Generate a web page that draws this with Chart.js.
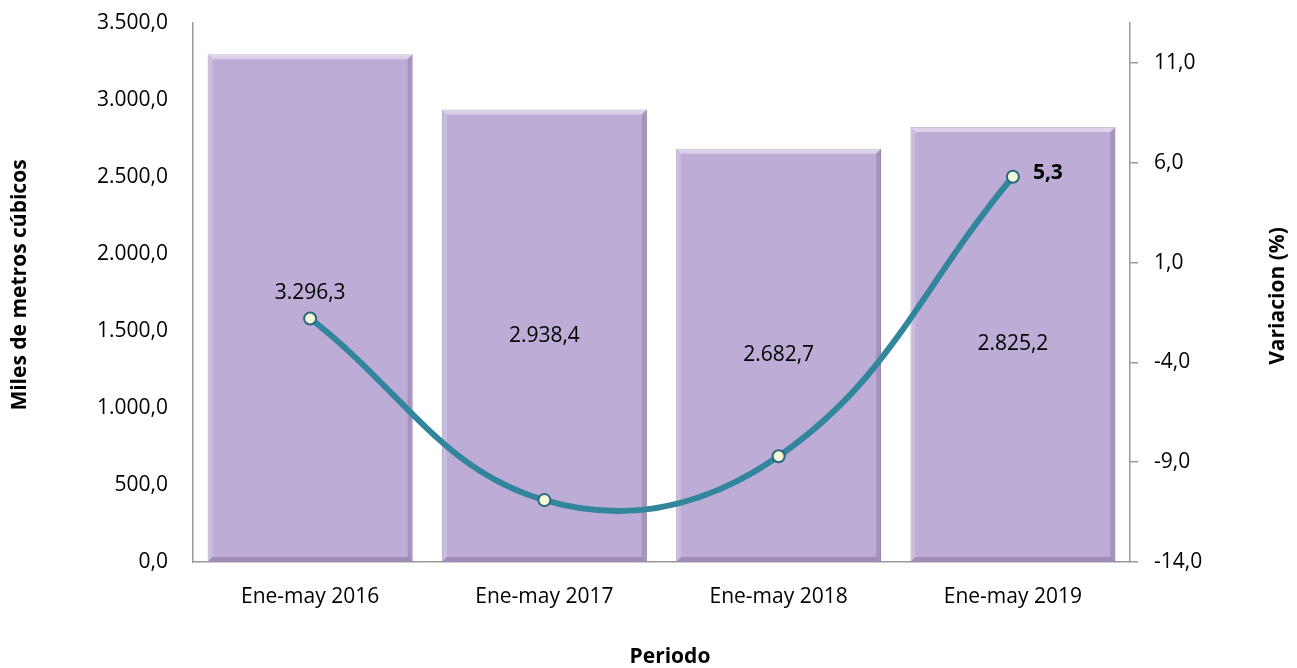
<!DOCTYPE html>
<html>
<head>
<meta charset="utf-8">
<script src="https://cdn.jsdelivr.net/npm/chart.js@4/dist/chart.umd.min.js"></script>
<style>
  html, body { margin: 0; padding: 0; background: #fff; }
  #wrap { width: 1297px; height: 668px; }
</style>
</head>
<body>
<div id="wrap"><canvas id="Volumen"></canvas></div>
<script>
const periodos = ['Ene-may 2016', 'Ene-may 2017', 'Ene-may 2018', 'Ene-may 2019'];
const volumen = [3296.3, 2938.4, 2682.7, 2825.2];
const variacion = [-1.8, -10.9, -8.7, 5.3];
const ticksIzq = [0, 500, 1000, 1500, 2000, 2500, 3000, 3500];
const ticksDer = [-14, -9, -4, 1, 6, 11];

const fuente = '"Open Sans", "Noto Sans", sans-serif';
const tam = 21;

// formato 3.296,3
function fmt(v) {
    const partes = Math.abs(v).toFixed(1).split('.');
    const ent = partes[0].replace(/\B(?=(\d{3})+(?!\d))/g, '.');
    return (v < 0 ? '-' : '') + ent + ',' + partes[1];
}

// biselado de las barras
const bisel = {
    id: 'bisel',
    afterDatasetDraw(chart, args) {
        if (args.index !== 1) return;
        const c = chart.ctx;
        const b = 5;
        args.meta.data.forEach(bar => {
            const l = bar.x - bar.width / 2, r = bar.x + bar.width / 2;
            const t = bar.y, d = bar.base;
            c.save();
            c.fillStyle = 'rgba(255,255,255,0.45)';
            c.beginPath();
            c.moveTo(l, t); c.lineTo(r, t); c.lineTo(r - b, t + b); c.lineTo(l + b, t + b);
            c.closePath(); c.fill();
            c.fillStyle = 'rgba(255,255,255,0.2)';
            c.beginPath();
            c.moveTo(l, t); c.lineTo(l + b, t + b); c.lineTo(l + b, d - b); c.lineTo(l, d);
            c.closePath(); c.fill();
            c.fillStyle = 'rgba(90,70,120,0.25)';
            c.beginPath();
            c.moveTo(r, t); c.lineTo(r, d); c.lineTo(r - b, d - b); c.lineTo(r - b, t + b);
            c.closePath(); c.fill();
            c.fillStyle = 'rgba(90,70,120,0.3)';
            c.beginPath();
            c.moveTo(l, d); c.lineTo(r, d); c.lineTo(r - b, d - b); c.lineTo(l + b, d - b);
            c.closePath(); c.fill();
            c.restore();
        });
    }
};

const etiquetas = {
    id: 'etiquetas',
    afterDatasetsDraw(chart) {
        const c = chart.ctx;
        c.save();
        c.fillStyle = '#000';
        c.textAlign = 'center';
        c.textBaseline = 'middle';
        c.font = tam + 'px ' + fuente;
        const barras = chart.getDatasetMeta(1).data;
        barras.forEach((b, i) => {
            let y = (b.y + b.base) / 2;
            if (i === 0) y -= 15;
            c.fillText(fmt(volumen[i]), b.x, y);
        });
        const pts = chart.getDatasetMeta(0).data;
        const ult = pts[pts.length - 1];
        c.font = 'bold ' + tam + 'px ' + fuente;
        c.textAlign = 'left';
        c.fillText(fmt(variacion[variacion.length - 1]), ult.x + 20, ult.y - 4);

        // titulos de ejes
        c.font = 'bold ' + tam + 'px ' + fuente;
        c.textAlign = 'center';
        c.save();
        c.translate(20, 285);
        c.rotate(-Math.PI / 2);
        c.fillText('Miles de metros cúbicos', 0, 0);
        c.restore();
        c.save();
        c.translate(1278, 296);
        c.rotate(-Math.PI / 2);
        c.fillText('Variacion (%)', 0, 0);
        c.restore();
        c.fillText('Periodo', 670, 657);
        c.restore();
    }
};

const ctx = document.getElementById('Volumen').getContext('2d');
const grafico = new Chart(ctx, {
    data: {
        labels: periodos,
        datasets: [{
            type: 'line',
            label: 'Variacion (%)',
            data: variacion,
            yAxisID: 'y1',
            borderColor: '#31869B',
            borderWidth: 6,
            tension: 0.4,
            pointRadius: 6,
            pointBorderWidth: 2,
            pointBackgroundColor: '#F5F7D8',
            pointBorderColor: '#256A7C',
            order: 0
        }, {
            type: 'bar',
            label: 'Miles de metros cúbicos',
            data: volumen,
            yAxisID: 'y',
            backgroundColor: '#BDACD5',
            borderColor: '#9F8FB8',
            borderWidth: 1,
            barPercentage: 0.875,
            categoryPercentage: 1,
            order: 1
        }]
    },
    options: {
        responsive: true,
        maintainAspectRatio: false,
        animation: false,
        layout: { padding: { left: 0, right: 0, top: 23, bottom: 0 } },
        plugins: {
            legend: { display: false },
            tooltip: { enabled: false }
        },
        scales: {
            x: {
                grid: { display: false, drawTicks: false },
                border: { display: true, color: '#999', width: 1.5 },
                ticks: { color: '#000', font: { size: tam, family: fuente }, padding: 22 },
                afterFit(s) { s.height = 106; s.paddingLeft = 0; s.paddingRight = 0; }
            },
            y: {
                position: 'left',
                min: 0,
                max: 3500,
                grid: { display: false, drawTicks: false },
                border: { display: true, color: '#999', width: 1.5 },
                ticks: {
                    color: '#000',
                    font: { size: tam, family: fuente },
                    padding: 25,
                    callback: v => fmt(v)
                },
                afterBuildTicks(s) { s.ticks = ticksIzq.map(v => ({ value: v })); },
                afterFit(s) { s.width = 193; s.paddingTop = 0; s.paddingBottom = 0; }
            },
            y1: {
                position: 'right',
                min: -14,
                max: 13,
                grid: { display: true, drawOnChartArea: false, drawTicks: true, tickLength: 8, color: '#999', lineWidth: 1.5 },
                border: { display: true, color: '#999', width: 1.5 },
                ticks: {
                    color: '#000',
                    font: { size: tam, family: fuente },
                    padding: 16,
                    callback: v => fmt(v)
                },
                afterBuildTicks(s) { s.ticks = ticksDer.map(v => ({ value: v })); },
                afterFit(s) { s.width = 167; s.paddingTop = 0; s.paddingBottom = 0; }
            }
        }
    },
    plugins: [bisel, etiquetas]
});
</script>
</body>
</html>
